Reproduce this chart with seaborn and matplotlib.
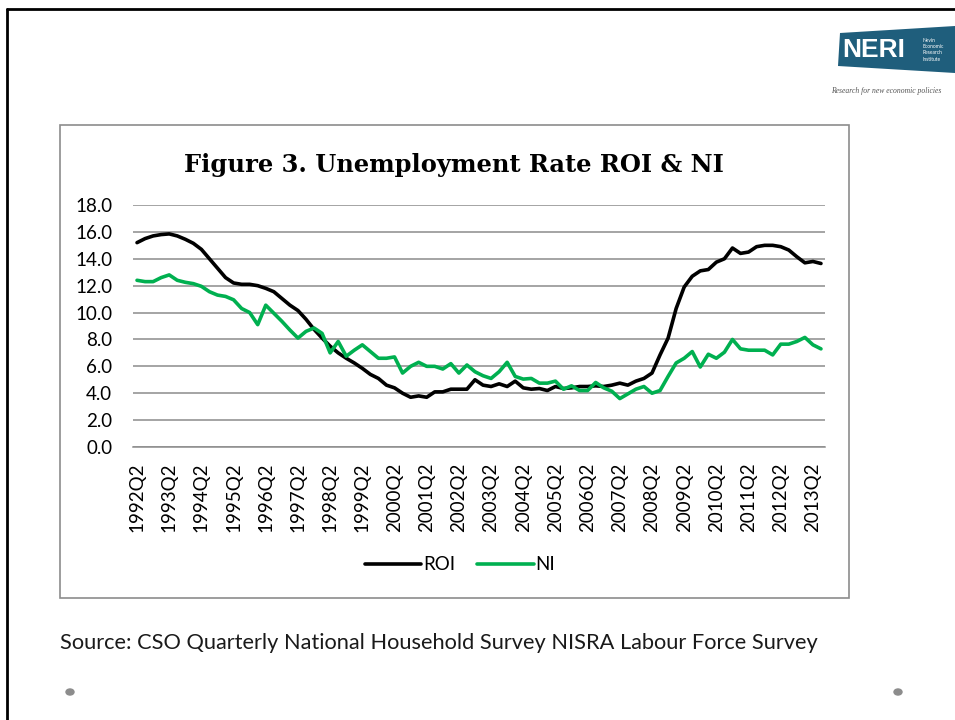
import numpy as np
import pandas as pd
import matplotlib
matplotlib.use("Agg")
import matplotlib.pyplot as plt
import seaborn as sns
from matplotlib.patches import Rectangle, Polygon, Circle
from matplotlib.lines import Line2D

# quarters 1992Q2 .. 2013Q3
quarters = []
for yr in range(1992, 2014):
    for q in range(1, 5):
        quarters.append(f"{yr}Q{q}")
quarters = quarters[quarters.index("1992Q2"):quarters.index("2013Q3") + 1]

roi = [15.2, 15.5, 15.7, 15.8, 15.85, 15.7, 15.45, 15.15, 14.7, 14.0,
       13.3, 12.6, 12.2, 12.1, 12.1, 12.0, 11.8, 11.55, 11.05, 10.55,
       10.15, 9.5, 8.75, 8.1, 7.5, 7.0, 6.6, 6.25, 5.85, 5.4,
       5.1, 4.6, 4.4, 4.0, 3.7, 3.8, 3.7, 4.1, 4.1, 4.3,
       4.3, 4.3, 5.0, 4.6, 4.5, 4.7, 4.5, 4.9, 4.4, 4.3,
       4.35, 4.2, 4.5, 4.35, 4.4, 4.5, 4.5, 4.55, 4.5, 4.6,
       4.75, 4.6, 4.9, 5.1, 5.5, 6.85, 8.1, 10.3, 11.9, 12.7,
       13.1, 13.2, 13.75, 14.0, 14.8, 14.4, 14.5, 14.9, 15.0, 15.0,
       14.9, 14.65, 14.15, 13.7, 13.8, 13.65]
ni = [12.4, 12.3, 12.3, 12.6, 12.8, 12.4, 12.25, 12.15, 11.95, 11.55,
      11.3, 11.2, 10.95, 10.3, 10.0, 9.1, 10.55, 9.95, 9.35, 8.7,
      8.1, 8.6, 8.85, 8.45, 7.0, 7.85, 6.75, 7.2, 7.6, 7.1,
      6.6, 6.6, 6.7, 5.5, 6.0, 6.3, 6.0, 6.0, 5.8, 6.2,
      5.5, 6.1, 5.6, 5.3, 5.1, 5.6, 6.3, 5.25, 5.05, 5.1,
      4.75, 4.75, 4.9, 4.3, 4.55, 4.2, 4.2, 4.8, 4.4, 4.15,
      3.6, 3.95, 4.3, 4.5, 4.0, 4.2, 5.25, 6.25, 6.6, 7.1,
      5.95, 6.9, 6.6, 7.05, 8.0, 7.3, 7.2, 7.2, 7.2, 6.85,
      7.65, 7.65, 7.85, 8.15, 7.6, 7.3]

df = pd.DataFrame({"idx": np.arange(len(quarters)), "quarter": quarters,
                   "ROI": roi, "NI": ni})
long = df.melt(id_vars=["idx", "quarter"], value_vars=["ROI", "NI"],
               var_name="series", value_name="rate")

sns.set_style("white")
plt.rcParams["font.family"] = ["Lato", "DejaVu Sans"]
plt.rcParams["text.color"] = "black"
plt.rcParams["xtick.labelcolor"] = "black"
plt.rcParams["ytick.labelcolor"] = "black"

fig = plt.figure(figsize=(9.55, 7.2), dpi=100)
W, H = 955, 720

def fx(px):
    return px / W

def fy(py):
    return 1 - py / H

# slide frame
fig.add_artist(Line2D([fx(7), fx(7)], [fy(9), 0], color="black", lw=2))
fig.add_artist(Line2D([fx(7), 1], [fy(9), fy(9)], color="black", lw=2))
# chart box
fig.add_artist(Rectangle((fx(60), fy(598)), fx(849) - fx(60), fy(125) - fy(598),
                         fill=False, edgecolor="#8c8c8c", lw=1.2))

ax = fig.add_axes([fx(133), fy(447), fx(825) - fx(133), fy(205) - fy(447)])
sns.lineplot(data=long, x="idx", y="rate", hue="series",
             palette={"ROI": "black", "NI": "#00B050"}, linewidth=2.6,
             ax=ax, legend=False)

ax.set_xlim(-0.5, len(quarters) - 0.5)
ax.set_ylim(0, 18)
ax.set_yticks(np.arange(0, 18.1, 2))
ax.set_yticklabels([f"{v:.1f}" for v in np.arange(0, 18.1, 2)], fontsize=13.5)
ax.yaxis.grid(True, color="#8c8c8c", lw=1.1)
ax.set_axisbelow(True)
lab_idx = list(range(0, len(quarters), 4))
ax.set_xticks(lab_idx)
ax.set_xticklabels([quarters[i] for i in lab_idx], rotation=90, fontsize=13.5)
ax.set_xticks(np.arange(-0.5, len(quarters), 1), minor=True)
ax.tick_params(axis="x", which="major", length=0, pad=11)
ax.tick_params(axis="x", which="minor", length=5, color="#8c8c8c", width=1)
ax.tick_params(axis="y", length=0, pad=15)
for s in ["top", "right", "left"]:
    ax.spines[s].set_visible(False)
ax.spines["bottom"].set_color("#8c8c8c")
ax.spines["bottom"].set_linewidth(1.1)
ax.set_xlabel("")
ax.set_ylabel("")

fig.text(fx(454), fy(165), "Figure 3. Unemployment Rate ROI & NI",
         ha="center", va="center", fontsize=17.4, fontweight="bold",
         color="black", family=["DejaVu Serif"])

# legend
handles = [Line2D([], [], color="black", lw=2.6, label="ROI"),
           Line2D([], [], color="#00B050", lw=2.6, label="NI")]
fig.legend(handles=handles, loc="center", bbox_to_anchor=(fx(460), fy(565)),
           ncol=2, frameon=False, fontsize=13.5, handlelength=3.0,
           handletextpad=0.1, columnspacing=1.2)

fig.text(fx(60), fy(643), "Source: CSO Quarterly National Household Survey NISRA Labour Force Survey",
         ha="left", va="center", fontsize=15.7, color="#1a1a1a")

# footer dots
for px in (70, 898):
    fig.add_artist(Circle((fx(px), fy(692)), radius=4 / W, color="#8c8c8c",
                          transform=fig.transFigure))

# NERI logo
poly = Polygon([(fx(840), fy(33)), (fx(955), fy(26)), (fx(955), fy(73)),
                (fx(838), fy(66))], closed=True, facecolor="#1f5e7c",
               edgecolor="none", transform=fig.transFigure)
fig.add_artist(poly)
fig.text(fx(842), fy(50), "NERI", color="white", fontsize=19, fontweight="bold",
         ha="left", va="center", family=["Liberation Sans", "DejaVu Sans"])
for k, w in enumerate(["Nevin", "Economic", "Research", "Institute"]):
    fig.text(fx(922), fy(40 + k * 6.5), w, color="white", fontsize=3.5,
             ha="left", va="center")
fig.text(fx(831), fy(91), "Research for new economic policies", color="#555555",
         fontsize=5.5, style="italic", ha="left", va="center",
         family=["Liberation Serif", "DejaVu Serif"])

fig.savefig("out.png", dpi=100, facecolor="white")
